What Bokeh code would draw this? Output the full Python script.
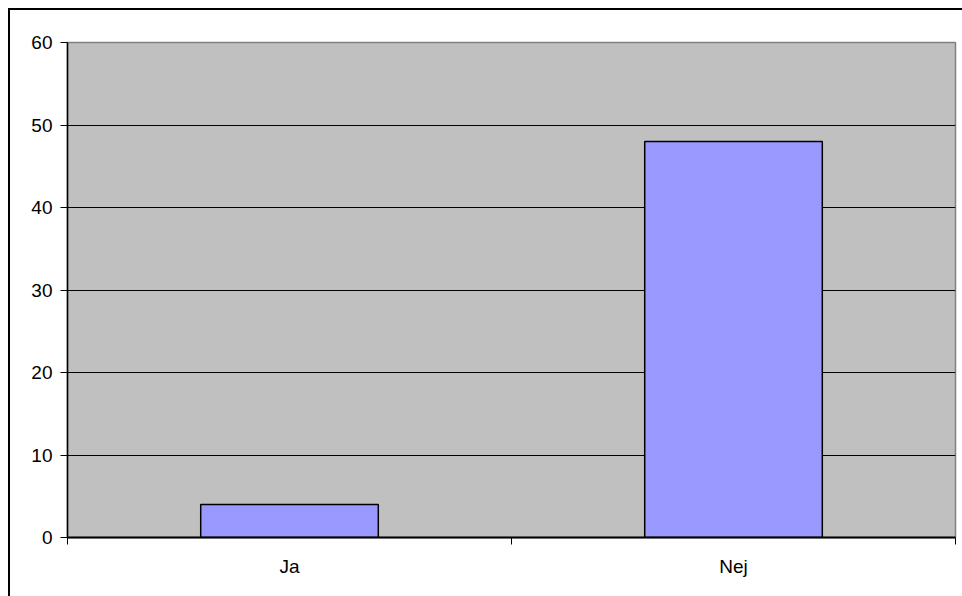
from bokeh.plotting import figure
from bokeh.models import Range1d, FixedTicker
from bokeh.embed import file_html
from bokeh.resources import INLINE

categories = ["Ja", "Nej"]
values = [4, 48]
y_ticks = [0, 10, 20, 30, 40, 50, 60]

xs = [i + 0.5 for i in range(len(categories))]

p = figure(width=954, height=588, output_backend="svg", toolbar_location=None,
           x_range=Range1d(0, len(categories)), y_range=Range1d(0, 60),
           min_border_left=57, min_border_top=32, min_border_right=9, min_border_bottom=61)
p.styles = {"border-left": "2px solid black", "border-top": "2px solid black",
            "box-sizing": "border-box", "margin-left": "8px", "margin-top": "8px"}

p.background_fill_color = "#C0C0C0"
p.border_fill_color = "white"
p.outline_line_color = "#808080"
p.outline_line_width = 1.5

p.vbar(x=xs, top=values, width=0.4, bottom=0, fill_color="#9999FF",
       line_color="black", line_width=1.5)

p.xgrid.visible = False
p.ygrid.ticker = FixedTicker(ticks=y_ticks[1:-1])
p.ygrid.grid_line_color = "black"
p.ygrid.grid_line_width = 1

# y axis
p.yaxis.ticker = FixedTicker(ticks=y_ticks)
p.yaxis.axis_line_color = "black"
p.yaxis.axis_line_width = 1.5
p.yaxis.major_tick_in = 0
p.yaxis.major_tick_out = 7
p.yaxis.minor_tick_line_color = None
p.yaxis.major_label_text_font = "Liberation Sans"
p.yaxis.major_label_text_font_size = "19px"
p.yaxis.major_label_text_color = "black"
p.yaxis.major_label_standoff = 8

# x axis
p.xaxis.ticker = FixedTicker(ticks=xs, minor_ticks=list(range(len(categories) + 1)))
p.xaxis.major_label_overrides = {x: c for x, c in zip(xs, categories)}
p.xaxis.major_tick_line_color = None
p.xaxis.major_tick_out = 0
p.xaxis.major_tick_in = 0
p.xaxis.minor_tick_line_color = "black"
p.xaxis.minor_tick_out = 7
p.xaxis.minor_tick_in = 0
p.xaxis.axis_line_color = "black"
p.xaxis.axis_line_width = 2
p.xaxis.major_label_text_font = "Liberation Sans"
p.xaxis.major_label_text_font_size = "19px"
p.xaxis.major_label_text_color = "black"
p.xaxis.major_label_standoff = 11

open("out.html", "w").write(file_html(p, INLINE))
